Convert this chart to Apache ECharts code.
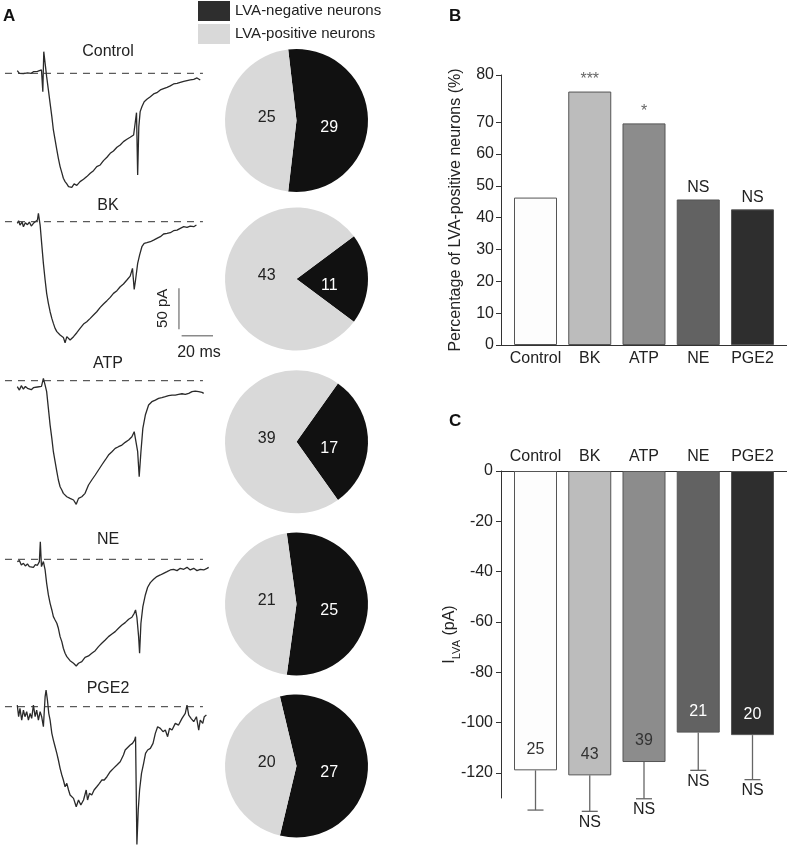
<!DOCTYPE html>
<html>
<head>
<meta charset="utf-8">
<script src="https://cdn.jsdelivr.net/npm/echarts@6/dist/echarts.min.js"></script>
<style>
  html, body { margin: 0; padding: 0; background: #fff; }
  #main { width: 787px; height: 845px; }
</style>
</head>
<body>
<div id="main"></div>
<script>
// conditions
var cats = ['Control', 'BK', 'ATP', 'NE', 'PGE2'];

// pies: number of neurons
var pieNeg = [29, 11, 17, 25, 27];
var piePos = [25, 43, 39, 21, 20];

// B: % LVA-positive
var bPct = [46.3, 79.6, 69.6, 45.7, 42.6];
var bSig = ['', '***', '*', 'NS', 'NS'];
var bTickVals = [0, 10, 20, 30, 40, 50, 60, 70, 84.8];
var bTickText = ['0', '10', '20', '30', '40', '50', '60', '70', '80'];
var bMinorVals = [5, 15, 25, 35, 45, 55, 65, 75, 80];

// C: I_LVA (pA)
var cMean = [-119, -121, -115.7, -104, -105];
var cErr = [15.8, 14.3, 14.6, 15, 17.7];
var cSig = ['', 'NS', 'NS', 'NS', 'NS'];
var cTickVals = [0, -20, -40, -60, -80, -100, -120];
var cMinorVals = [-10, -30, -50, -70, -90, -110, -130];

// traces [ms, pA]
var traceControl = [[9.0,3.3],[10.1,0],[11.1,2.4],[12.2,-0.4],[13.2,2.0],[14.3,0.4],[15.3,2.8],[16.3,0],[17.4,2.0],[18.4,0.4],[19.5,2.4],[20.5,0.8],[21.6,4.1],[22.3,-22.4],[22.8,26.4],[23.7,8.1],[24.3,-4.1],[25.2,-20.3],[26.1,-36.6],[27.0,-52.8],[27.8,-69.1],[28.7,-81.3],[29.6,-93.5],[30.4,-103.7],[31.3,-113.8],[32.2,-121.1],[33.0,-128.0],[33.9,-132.1],[34.8,-134.9],[35.7,-138.2],[36.5,-137.0],[37.4,-139.0],[38.6,-134.9],[40.0,-136.6],[41.7,-132.1],[43.5,-129.3],[45.2,-126.0],[47.0,-122.0],[48.7,-118.7],[50.4,-113.8],[52.2,-111.8],[53.9,-106.5],[55.7,-102.4],[57.4,-97.6],[59.1,-94.7],[60.9,-90.2],[62.6,-87.4],[64.3,-83.3],[66.1,-80.5],[67.8,-78.0],[69.6,-75.2],[70.6,-73.2],[71.1,-48.0],[71.7,-124.0],[72.3,-65.0],[73.0,-46.7],[73.9,-40.7],[75.1,-34.6],[76.5,-31.7],[78.3,-28.5],[80.0,-25.2],[81.7,-23.6],[83.5,-20.3],[85.2,-18.7],[87.0,-17.1],[88.7,-15.4],[90.4,-13.0],[92.2,-12.2],[93.9,-11.0],[95.7,-9.8],[97.4,-8.9],[99.1,-8.1],[100.9,-7.3],[102.6,-5.7],[104.3,-8.1]];
var traceBK = [[9.0,-2.0],[9.7,1.2],[10.4,-4.1],[11.5,-0.4],[12.2,-6.1],[13.2,-1.2],[14.3,-3.7],[15.3,-0.4],[16.3,-5.3],[17.4,-2.0],[18.4,-2.8],[19.5,2.0],[20.0,10.2],[20.9,-4.1],[21.7,-26.4],[22.6,-50.8],[23.5,-71.1],[24.3,-87.4],[25.2,-99.6],[26.1,-109.8],[27.0,-117.9],[27.8,-124.0],[28.7,-130.1],[29.6,-134.1],[31.3,-138.2],[33.0,-141.1],[33.9,-147.6],[34.8,-140.2],[36.5,-144.3],[38.3,-140.2],[40.0,-135.4],[41.7,-130.1],[43.5,-124.8],[45.2,-122.0],[47.0,-117.9],[48.7,-113.8],[50.4,-109.8],[52.2,-104.5],[53.9,-100.4],[55.7,-96.3],[57.4,-92.3],[59.1,-87.4],[60.9,-84.1],[62.6,-79.3],[64.3,-76.0],[66.1,-71.1],[67.8,-66.3],[69.0,-56.9],[69.9,-82.5],[70.6,-71.1],[71.7,-50.8],[72.7,-40.7],[73.9,-30.5],[75.1,-26.4],[76.5,-25.6],[78.3,-24.4],[80.0,-22.4],[81.7,-20.3],[83.5,-18.3],[85.2,-15.0],[87.0,-14.2],[88.7,-13.4],[90.4,-11.0],[92.2,-10.2],[93.9,-8.1],[95.7,-6.1],[97.4,-6.9],[99.1,-5.3],[100.9,-6.1],[102.3,-4.1]];
var traceATP = [[9.0,-7.3],[10.1,-11.4],[11.1,-6.1],[12.2,-10.2],[13.2,-6.9],[14.3,-9.3],[15.3,-7.7],[16.3,-11.0],[17.4,-8.5],[18.4,-10.2],[19.5,-7.7],[20.5,-9.3],[21.6,-6.9],[22.6,2.8],[23.5,-5.3],[24.3,-13.4],[25.2,-33.7],[26.1,-54.1],[27.0,-70.3],[27.8,-86.6],[28.7,-98.8],[29.6,-111.0],[30.4,-121.1],[31.3,-129.3],[32.2,-133.3],[33.0,-137.4],[34.8,-141.5],[36.5,-143.5],[38.3,-145.5],[39.7,-150.8],[40.9,-143.5],[42.6,-141.5],[44.3,-137.4],[46.1,-127.2],[47.8,-121.1],[49.6,-115.0],[51.3,-108.9],[53.0,-102.8],[54.8,-96.7],[56.5,-90.7],[58.3,-86.6],[60.0,-82.5],[61.7,-80.5],[63.5,-78.5],[65.2,-75.2],[67.0,-72.4],[68.7,-68.3],[69.9,-62.2],[70.8,-64.2],[71.7,-86.6],[72.5,-117.1],[73.4,-86.6],[74.4,-58.1],[75.7,-41.9],[77.4,-29.7],[79.1,-25.6],[80.9,-23.6],[82.6,-21.5],[84.3,-20.7],[86.1,-19.5],[87.8,-18.3],[89.6,-17.5],[91.3,-17.5],[93.0,-16.7],[94.8,-15.9],[96.5,-16.7],[98.3,-15.4],[100.0,-13.4],[101.7,-12.6],[103.5,-13.4],[105.2,-14.2],[106.1,-15.4]];
var traceNE = [[9.0,-2.8],[10.1,-1.6],[11.1,-6.9],[12.2,-4.9],[13.2,-8.1],[14.3,-5.7],[15.3,-8.9],[16.3,-6.5],[17.4,-9.8],[18.4,-6.5],[19.5,-7.3],[20.5,-2.8],[21.0,21.5],[21.6,-8.9],[22.6,-2.8],[23.5,-13.0],[24.3,-29.3],[25.2,-43.5],[26.1,-53.7],[27.0,-61.8],[27.8,-69.9],[28.7,-74.0],[29.6,-78.0],[30.4,-84.1],[31.3,-94.3],[32.2,-100.4],[33.0,-108.5],[33.9,-114.6],[34.8,-118.7],[36.5,-123.6],[38.3,-126.8],[39.7,-130.1],[40.9,-126.8],[42.6,-124.8],[44.3,-119.5],[46.1,-117.9],[47.8,-114.6],[49.6,-111.4],[51.3,-106.5],[53.0,-102.4],[54.8,-98.4],[56.5,-94.3],[58.3,-91.1],[60.0,-88.2],[61.7,-84.1],[63.5,-80.1],[65.2,-77.2],[67.0,-73.2],[68.7,-70.7],[69.9,-65.9],[70.6,-61.8],[71.3,-70.7],[72.2,-94.3],[72.7,-114.6],[73.4,-78.0],[74.4,-57.7],[75.7,-43.5],[76.9,-34.1],[78.3,-28.5],[80.0,-24.4],[81.7,-21.1],[83.5,-19.1],[85.2,-17.1],[87.0,-15.0],[88.7,-13.0],[90.4,-12.2],[92.2,-13.8],[93.9,-11.0],[95.7,-12.2],[97.4,-9.8],[99.1,-13.0],[100.9,-11.0],[102.6,-13.8],[104.3,-12.2],[106.1,-13.0],[107.8,-11.0],[108.7,-9.8]];
var tracePGE2 = [[9.0,2.0],[9.7,-12.2],[10.4,-2.0],[11.3,-16.3],[12.2,-4.1],[13.0,-12.2],[13.9,-6.1],[14.8,-16.3],[15.7,-8.1],[16.5,-14.2],[17.4,2.0],[18.3,-12.2],[19.1,-4.1],[20.0,-16.3],[20.9,-6.1],[21.7,-12.2],[22.6,-24.4],[23.5,12.2],[24.0,20.3],[24.7,8.1],[25.4,-8.1],[26.1,-16.3],[27.0,-32.5],[27.8,-40.7],[28.7,-48.8],[29.6,-56.9],[30.4,-65.0],[31.3,-75.2],[32.2,-83.3],[33.0,-89.4],[33.9,-97.6],[34.8,-93.5],[35.7,-101.6],[36.5,-107.7],[37.4,-109.8],[38.3,-111.8],[39.7,-122.0],[40.9,-113.8],[42.1,-119.9],[43.5,-113.8],[44.9,-101.6],[45.6,-113.8],[46.6,-105.7],[47.8,-107.7],[49.0,-101.6],[50.4,-97.6],[51.8,-93.5],[53.0,-89.4],[54.3,-89.4],[55.7,-85.4],[57.4,-79.3],[59.1,-75.2],[60.9,-71.1],[62.6,-67.1],[64.3,-58.9],[65.2,-52.8],[66.1,-54.9],[67.8,-46.7],[69.0,-44.7],[70.1,-40.7],[70.6,-36.6],[71.3,-168.0],[72.0,-126.0],[72.7,-101.6],[73.7,-81.3],[74.8,-69.1],[75.8,-56.9],[76.9,-52.8],[78.3,-50.8],[79.7,-44.7],[80.9,-32.5],[82.1,-24.4],[83.5,-26.4],[84.9,-30.5],[86.1,-28.5],[87.3,-36.6],[88.3,-26.4],[89.6,-28.5],[91.3,-20.3],[93.0,-22.4],[94.8,-14.2],[96.5,-8.1],[97.4,2.0],[98.3,-10.2],[99.5,-14.2],[100.9,-18.3],[102.3,-12.2],[103.5,-28.5],[104.3,-16.3],[105.6,-20.3],[106.4,-12.2],[107.5,-10.2]];
var traces = [traceControl, traceBK, traceATP, traceNE, tracePGE2];

// dashed zero line span (ms) and scale bar (in BK panel units)
var dashSpan = [2.6, 105.7];
var scaleV = [[93.2, -81.2], [93.2, -131.2]];   // 50 pA
var scaleH = [[94.6, -139], [114.6, -139]];     // 20 ms

// layout
var traceBase = [73.3, 221.7, 380.7, 559.3, 706.7];
var titleY = [51.7, 205.7, 364, 540, 688.3];
var pieY = [120.5, 279, 441.7, 604, 766];

var barColors = ['#fdfdfd', '#bcbcbc', '#8c8c8c', '#626262', '#2e2e2e'];
var cNColors = ['#333', '#333', '#333', '#fff', '#fff'];
var FONT = '"Liberation Sans", Arial, sans-serif';

var grids = [], xAxes = [], yAxes = [], series = [], graphics = [];

// ---- panel A: traces ----
traces.forEach(function (tr, i) {
  grids.push({ left: 0, top: traceBase[i] - 32.8, width: 211.2, height: 131.2, outerBoundsMode: 'none' });
  xAxes.push({ gridIndex: i, type: 'value', min: 0, max: 110, show: false });
  yAxes.push({ gridIndex: i, type: 'value', min: -120, max: 40, show: false });
  series.push({
    type: 'line', xAxisIndex: i, yAxisIndex: i, data: tr,
    showSymbol: false, clip: false, silent: true,
    lineStyle: { color: '#2a2a2a', width: 1.3 }
  });
  series.push({
    type: 'line', xAxisIndex: i, yAxisIndex: i,
    data: [[dashSpan[0], 0], [dashSpan[1], 0]],
    showSymbol: false, clip: false, silent: true,
    lineStyle: { color: '#333', width: 1, type: [7, 6] }
  });
  graphics.push({
    type: 'text', x: 108, y: titleY[i],
    style: { text: cats[i], font: '16px ' + FONT, fill: '#222', align: 'center', verticalAlign: 'middle', textAlign: 'center', textVerticalAlign: 'middle' }
  });
});

// scale bar in BK panel
[scaleV, scaleH].forEach(function (d) {
  series.push({
    type: 'line', xAxisIndex: 1, yAxisIndex: 1, data: d,
    showSymbol: false, clip: false, silent: true,
    lineStyle: { color: '#8a8a8a', width: 1.5 }
  });
});
graphics.push({
  type: 'text', x: 163.3, y: 308.3, rotation: Math.PI / 2,
  style: { text: '50 pA', font: '15px ' + FONT, fill: '#222', align: 'center', verticalAlign: 'middle', textAlign: 'center', textVerticalAlign: 'middle' }
});
graphics.push({
  type: 'text', x: 199, y: 352.3,
  style: { text: '20 ms', font: '16px ' + FONT, fill: '#222', align: 'center', verticalAlign: 'middle', textAlign: 'center', textVerticalAlign: 'middle' }
});

// panel letters
[['A', 3, 16], ['B', 449, 16], ['C', 449, 421]].forEach(function (p) {
  graphics.push({
    type: 'text', x: p[1], y: p[2],
    style: { text: p[0], font: 'bold 17px ' + FONT, fill: '#111', align: 'left', verticalAlign: 'middle', textAlign: 'left', textVerticalAlign: 'middle' }
  });
});

// ---- pies ----
cats.forEach(function (c, i) {
  var tot = pieNeg[i] + piePos[i];
  series.push({
    type: 'pie', center: [296.5, pieY[i]], radius: [0, 71.5],
    startAngle: 360 * pieNeg[i] / tot / 2, clockwise: true,
    silent: true,
    label: { position: 'inside', formatter: '{c}', fontSize: 16, fontFamily: FONT },
    labelLine: { show: false },
    data: [
      { name: 'LVA-negative neurons', value: pieNeg[i], itemStyle: { color: '#111111' },
        label: { color: '#fff', offset: [-6, 7] } },
      { name: 'LVA-positive neurons', value: piePos[i], itemStyle: { color: '#d9d9d9' },
        label: { color: '#222', offset: [9, -3] } }
    ]
  });
});

// ---- panel B ----
grids.push({ left: 501, top: 75, width: 286, height: 270, outerBoundsMode: 'none' });   // grid 5
xAxes.push({
  gridIndex: 5, type: 'value', min: -0.636, max: 4.636,
  axisLine: { onZero: false, lineStyle: { color: '#333', width: 1 } },
  axisTick: { show: false }, splitLine: { show: false },
  axisLabel: { customValues: [0, 1, 2, 3, 4], formatter: function (v) { return cats[v]; },
    fontSize: 16, fontFamily: FONT, color: '#222', margin: 6 }
});
yAxes.push({
  gridIndex: 5, type: 'value', min: 0, max: 84.8,
  name: 'Percentage of LVA-positive neurons (%)', nameLocation: 'middle', nameRotate: 90, nameGap: 37,
  nameMoveOverlap: false,
  nameTextStyle: { fontSize: 16, fontFamily: FONT, color: '#222' },
  axisLine: { show: true, onZero: false, lineStyle: { color: '#333', width: 1 } },
  axisTick: { show: true, length: 5, customValues: bTickVals, lineStyle: { color: '#333' } },
  axisLabel: { customValues: bTickVals, formatter: function (v) { return bTickText[bTickVals.indexOf(v)]; },
    fontSize: 16, fontFamily: FONT, color: '#222', margin: 7 },
  splitLine: { show: false }
});
yAxes.push({
  gridIndex: 5, type: 'value', min: 0, max: 84.8,
  axisLine: { show: false, onZero: false }, axisLabel: { show: false }, splitLine: { show: false },
  axisTick: { show: true, length: 3, customValues: bMinorVals, lineStyle: { color: '#333' } }
});
series.push({
  type: 'bar', xAxisIndex: 5, yAxisIndex: 5, barWidth: 43, silent: true,
  data: bPct.map(function (v, i) {
    return { value: [i, v], itemStyle: { color: barColors[i] },
      label: { color: bSig[i] === 'NS' ? '#222' : '#666' } };
  }),
  itemStyle: { borderColor: '#555', borderWidth: 1 },
  label: { show: true, position: 'top', distance: 4, fontSize: 16, fontFamily: FONT,
    formatter: function (p) { return bSig[p.dataIndex]; } }
});

// ---- panel C ----
grids.push({ left: 501, top: 471, width: 286, height: 327, outerBoundsMode: 'none' });   // grid 6
xAxes.push({
  gridIndex: 6, type: 'value', position: 'top', min: -0.636, max: 4.636,
  axisLine: { onZero: false, lineStyle: { color: '#333', width: 1 } },
  axisTick: { show: false }, splitLine: { show: false },
  axisLabel: { customValues: [0, 1, 2, 3, 4], formatter: function (v) { return cats[v]; },
    fontSize: 16, fontFamily: FONT, color: '#222', margin: 6 }
});
yAxes.push({
  gridIndex: 6, type: 'value', min: -130, max: 0,
  name: '{a|I}{sub|LVA}{a| (pA)}', nameLocation: 'middle', nameRotate: 90, nameGap: 39,
  nameMoveOverlap: false,
  nameTextStyle: { fontSize: 16, fontFamily: FONT, color: '#222',
    rich: { a: { fontSize: 16, fontFamily: FONT, color: '#222', lineHeight: 20, verticalAlign: 'top' },
            sub: { fontSize: 11, fontFamily: FONT, color: '#222', lineHeight: 20, verticalAlign: 'bottom' } } },
  axisLine: { show: true, onZero: false, lineStyle: { color: '#333', width: 1 } },
  axisTick: { show: true, length: 5, customValues: cTickVals, lineStyle: { color: '#333' } },
  axisLabel: { customValues: cTickVals, fontSize: 16, fontFamily: FONT, color: '#222', margin: 8 },
  splitLine: { show: false }
});
yAxes.push({
  gridIndex: 6, type: 'value', min: -130, max: 0,
  axisLine: { show: false, onZero: false }, axisLabel: { show: false }, splitLine: { show: false },
  axisTick: { show: true, length: 3, customValues: cMinorVals, lineStyle: { color: '#333' } }
});
series.push({
  type: 'bar', xAxisIndex: 6, yAxisIndex: 7, barWidth: 43, silent: true,
  data: cMean.map(function (v, i) {
    return { value: [i, v], itemStyle: { color: barColors[i] }, label: { color: cNColors[i] } };
  }),
  itemStyle: { borderColor: '#555', borderWidth: 1 },
  label: { show: true, position: 'insideBottom', distance: 13, fontSize: 16, fontFamily: FONT,
    formatter: function (p) { return String(piePos[p.dataIndex]); } }
});
series.push({
  type: 'custom', xAxisIndex: 6, yAxisIndex: 7, clip: false, silent: true, z: 5,
  encode: { x: 0, y: 1 },
  data: cMean.map(function (v, i) { return [i, v, cErr[i]]; }),
  renderItem: function (params, api) {
    var i = api.value(0), m = api.value(1), e = api.value(2);
    var p0 = api.coord([i, m]);
    var p1 = api.coord([i, m - e]);
    var ls = { stroke: '#666', lineWidth: 1.3 };
    return {
      type: 'group',
      children: [
        { type: 'line', shape: { x1: p0[0], y1: p0[1], x2: p1[0], y2: p1[1] }, style: ls },
        { type: 'line', shape: { x1: p1[0] - 8, y1: p1[1], x2: p1[0] + 8, y2: p1[1] }, style: ls },
        { type: 'text', x: p1[0], y: p1[1] + 3,
          style: { text: cSig[params.dataIndex], font: '16px ' + FONT, fill: '#222',
            align: 'center', verticalAlign: 'top', textAlign: 'center', textVerticalAlign: 'top' } }
      ]
    };
  }
});

var chart = echarts.init(document.getElementById('main'), null, { renderer: 'canvas' });
chart.setOption({
  animation: false,
  backgroundColor: '#fff',
  textStyle: { fontFamily: FONT },
  legend: {
    orient: 'vertical', left: 198, top: 1, padding: 0, itemGap: 3,
    itemWidth: 32, itemHeight: 20, icon: 'rect', selectedMode: false,
    textStyle: { fontSize: 15, fontFamily: FONT, color: '#222' },
    data: [
      { name: 'LVA-negative neurons', itemStyle: { color: '#2e2e2e' } },
      { name: 'LVA-positive neurons', itemStyle: { color: '#d9d9d9' } }
    ]
  },
  grid: grids,
  xAxis: xAxes,
  yAxis: yAxes,
  series: series,
  graphic: graphics
});
</script>
</body>
</html>
